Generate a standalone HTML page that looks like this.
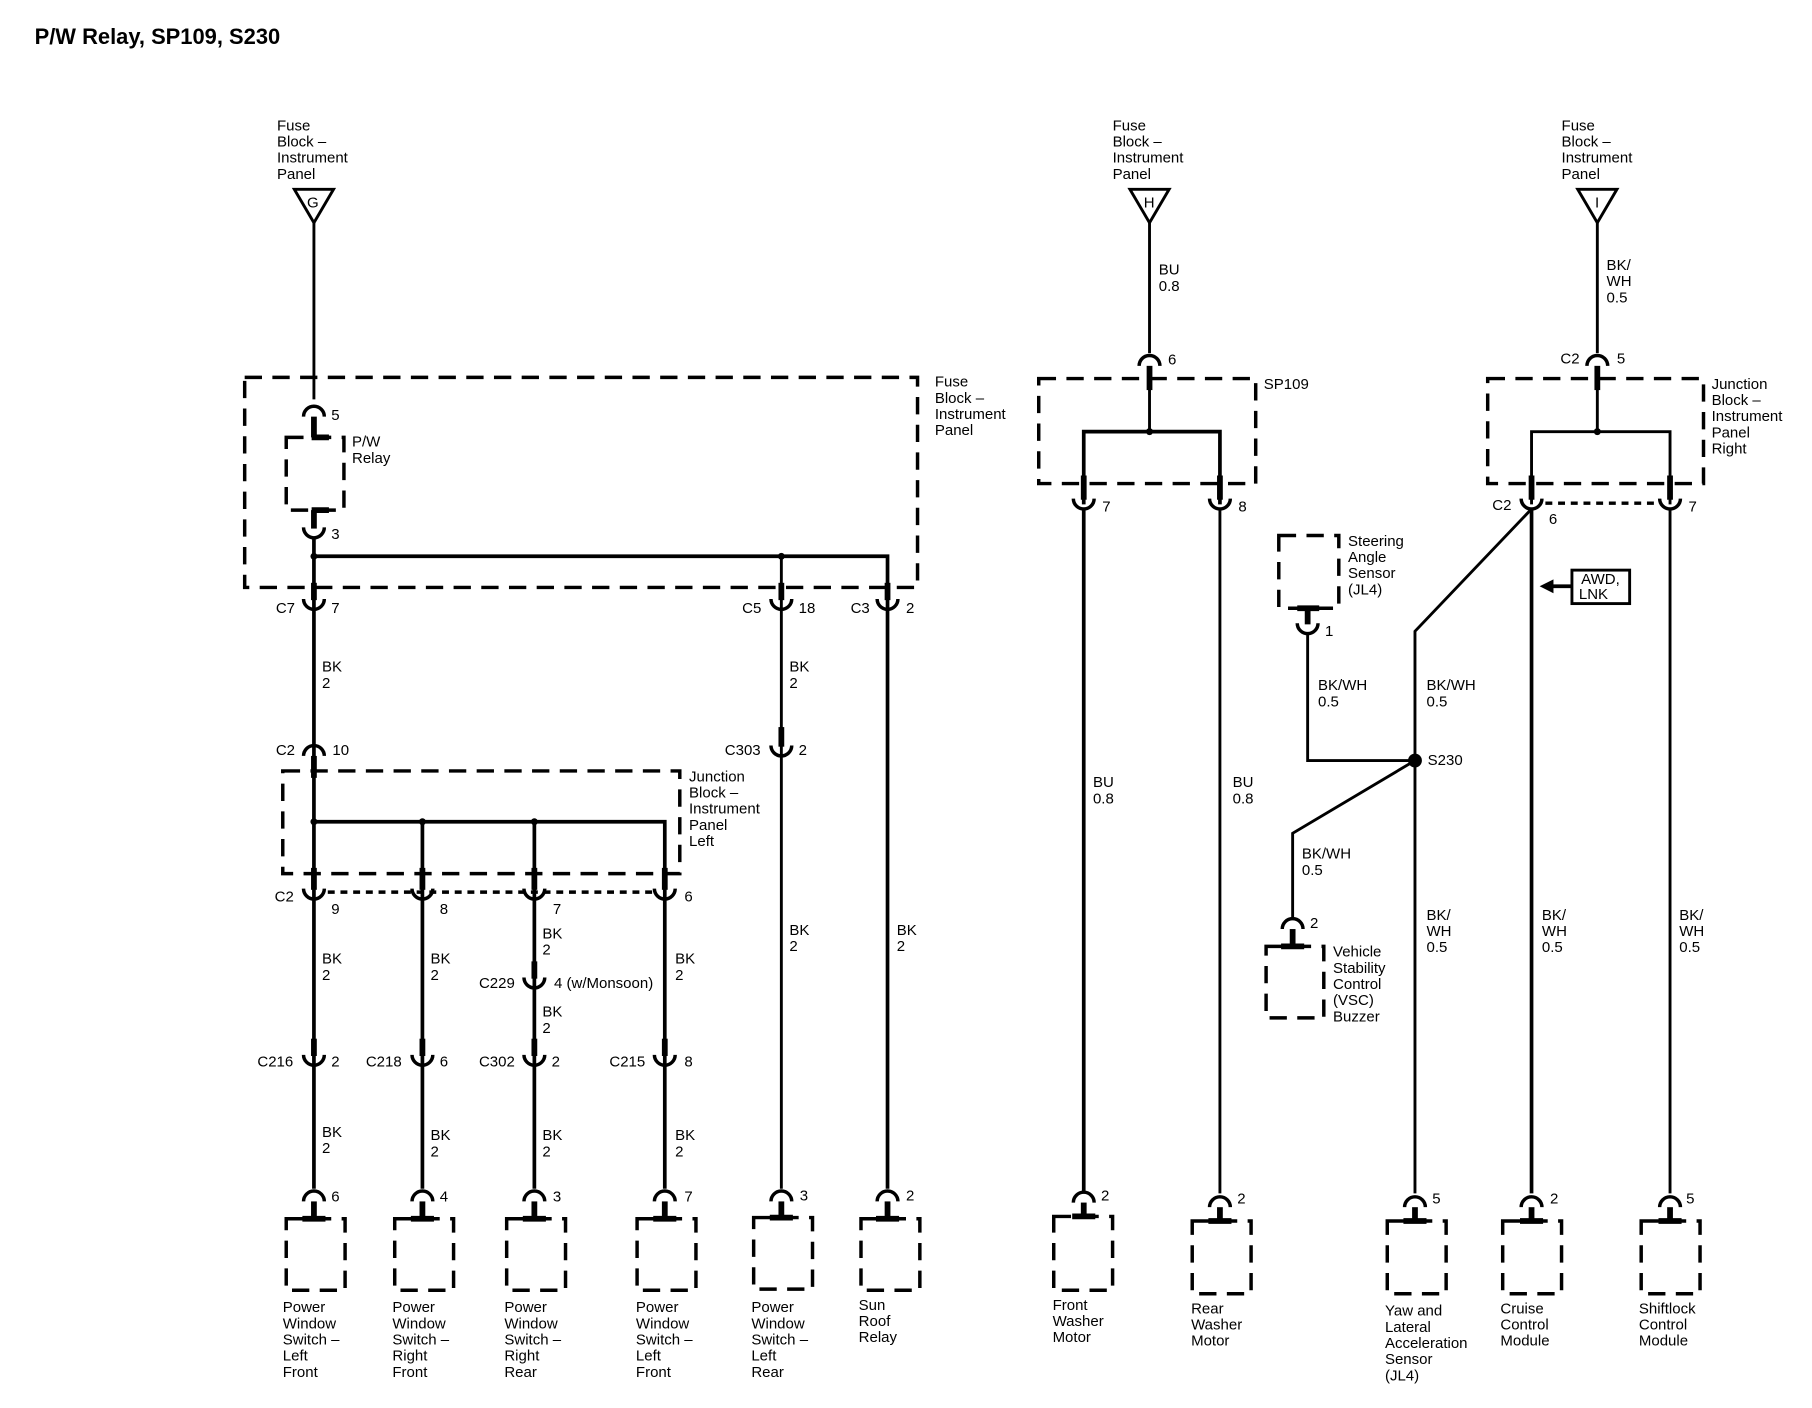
<!DOCTYPE html>
<html><head><meta charset="utf-8"><style>
html,body{margin:0;padding:0;background:#fff;}
svg{display:block;}
text{font-family:"Liberation Sans",Arial,sans-serif;font-size:13px;fill:#000;}
.t{font-size:19px;font-weight:bold;}
.w{stroke:#000;stroke-width:2.5;fill:none;}
.wt{stroke:#000;stroke-width:3.2;fill:none;}
.s{stroke:#000;stroke-width:5;fill:none;}
.d{stroke:#000;stroke-width:3;fill:none;stroke-dasharray:15 9;}
.dd{stroke:#000;stroke-width:3;fill:none;stroke-dasharray:6 5;}
.c{stroke:#000;stroke-width:3;fill:none;}
</style></head><body>
<svg width="1812" height="1408" viewBox="0 0 1570 1220" preserveAspectRatio="none" xmlns="http://www.w3.org/2000/svg">
<defs>
<path id="cup" class="c" d="M-9,-5 A9,9 0 0 0 9,-5"/>
<path id="cap" class="c" d="M-9,5 A9,9 0 0 1 9,5"/>
</defs>
<text x="30" y="38" class="t">P/W Relay, SP109, S230</text>

<!-- LEFT SECTION -->
<text x="240" y="113">Fuse</text><text x="240" y="127">Block –</text><text x="240" y="141">Instrument</text><text x="240" y="155">Panel</text>
<path d="M255,164 L289,164 L272,193 Z" class="w" stroke-width="2"/>
<text x="266" y="180" font-size="12">G</text>
<line x1="272" y1="193" x2="272" y2="346" class="w"/>
<rect x="212" y="327" width="583" height="182" class="d"/>
<text x="810" y="335">Fuse</text><text x="810" y="349">Block –</text><text x="810" y="363">Instrument</text><text x="810" y="377">Panel</text>
<use href="#cap" x="272" y="356"/><text x="287" y="364">5</text>
<line x1="272" y1="361" x2="272" y2="379" class="s"/>
<line x1="270" y1="379" x2="285" y2="379" class="s"/>
<rect x="248" y="379" width="50" height="63" class="d"/>
<text x="305" y="387">P/W</text><text x="305" y="401">Relay</text>
<line x1="270" y1="442" x2="285" y2="442" class="s"/>
<line x1="272" y1="442" x2="272" y2="458" class="s"/>
<use href="#cup" x="272" y="462"/><text x="287" y="467">3</text>
<line x1="272" y1="466" x2="272" y2="1030" class="wt"/>
<polyline points="272,482 769,482 769,1030" class="wt"/>
<line x1="677" y1="482" x2="677" y2="1030" class="w"/>
<circle cx="272" cy="482" r="3"/><circle cx="677" cy="482" r="3"/>
<line x1="272" y1="505" x2="272" y2="520" class="s"/><use href="#cup" x="272" y="524"/>
<text x="239" y="531">C7</text><text x="287" y="531">7</text>
<line x1="677" y1="505" x2="677" y2="520" class="s"/><use href="#cup" x="677" y="524"/>
<text x="643" y="531">C5</text><text x="692" y="531">18</text>
<line x1="769" y1="505" x2="769" y2="520" class="s"/><use href="#cup" x="769" y="524"/>
<text x="737" y="531">C3</text><text x="785" y="531">2</text>
<text x="279" y="582">BK</text><text x="279" y="596">2</text>
<text x="684" y="582">BK</text><text x="684" y="596">2</text>
<use href="#cap" x="272" y="650"/><line x1="272" y1="655" x2="272" y2="674" class="s"/>
<text x="239" y="654">C2</text><text x="288" y="654">10</text>
<line x1="677" y1="630" x2="677" y2="647" class="s"/><use href="#cup" x="677" y="651"/>
<text x="628" y="654">C303</text><text x="692" y="654">2</text>
<rect x="245" y="668" width="344" height="89" class="d"/>
<text x="597" y="677">Junction</text><text x="597" y="691">Block –</text><text x="597" y="705">Instrument</text><text x="597" y="719">Panel</text><text x="597" y="733">Left</text>
<polyline points="272,712 576,712 576,1030" class="wt"/>
<line x1="366" y1="712" x2="366" y2="1030" class="wt"/>
<line x1="463" y1="712" x2="463" y2="1030" class="wt"/>
<circle cx="272" cy="712" r="3"/><circle cx="366" cy="712" r="3"/><circle cx="463" cy="712" r="3"/>
<line x1="284" y1="773" x2="566" y2="773" class="dd"/>
<g>
<line x1="272" y1="752" x2="272" y2="771" class="s"/><use href="#cup" x="272" y="775"/>
<line x1="366" y1="752" x2="366" y2="771" class="s"/><use href="#cup" x="366" y="775"/>
<line x1="463" y1="752" x2="463" y2="771" class="s"/><use href="#cup" x="463" y="775"/>
<line x1="576" y1="752" x2="576" y2="771" class="s"/><use href="#cup" x="576" y="775"/>
</g>
<text x="238" y="781">C2</text><text x="287" y="792">9</text><text x="381" y="792">8</text><text x="479" y="792">7</text><text x="593" y="781">6</text>
<text x="279" y="835">BK</text><text x="279" y="849">2</text>
<text x="373" y="835">BK</text><text x="373" y="849">2</text>
<text x="470" y="813">BK</text><text x="470" y="827">2</text>
<text x="585" y="835">BK</text><text x="585" y="849">2</text>
<line x1="463" y1="833" x2="463" y2="848" class="s"/><use href="#cup" x="463" y="852"/>
<text x="415" y="856">C229</text><text x="480" y="856">4 (w/Monsoon)</text>
<text x="470" y="881">BK</text><text x="470" y="895">2</text>
<g>
<line x1="272" y1="900" x2="272" y2="915" class="s"/><use href="#cup" x="272" y="919"/>
<line x1="366" y1="900" x2="366" y2="915" class="s"/><use href="#cup" x="366" y="919"/>
<line x1="463" y1="900" x2="463" y2="915" class="s"/><use href="#cup" x="463" y="919"/>
<line x1="576" y1="900" x2="576" y2="915" class="s"/><use href="#cup" x="576" y="919"/>
</g>
<text x="223" y="924">C216</text><text x="287" y="924">2</text>
<text x="317" y="924">C218</text><text x="381" y="924">6</text>
<text x="415" y="924">C302</text><text x="478" y="924">2</text>
<text x="528" y="924">C215</text><text x="593" y="924">8</text>
<text x="279" y="985">BK</text><text x="279" y="999">2</text>
<text x="373" y="988">BK</text><text x="373" y="1002">2</text>
<text x="470" y="988">BK</text><text x="470" y="1002">2</text>
<text x="585" y="988">BK</text><text x="585" y="1002">2</text>
<text x="684" y="810">BK</text><text x="684" y="824">2</text>
<text x="777" y="810">BK</text><text x="777" y="824">2</text>
<g>
<use href="#cap" x="272" y="1036"/><line x1="272" y1="1041" x2="272" y2="1056" class="s"/><line x1="262" y1="1056" x2="282" y2="1056" class="s"/><rect x="248" y="1056" width="51" height="62" class="d"/><text x="287" y="1041">6</text>
<use href="#cap" x="366" y="1036"/><line x1="366" y1="1041" x2="366" y2="1056" class="s"/><line x1="356" y1="1056" x2="376" y2="1056" class="s"/><rect x="342" y="1056" width="51" height="62" class="d"/><text x="381" y="1041">4</text>
<use href="#cap" x="463" y="1036"/><line x1="463" y1="1041" x2="463" y2="1056" class="s"/><line x1="453" y1="1056" x2="473" y2="1056" class="s"/><rect x="439" y="1056" width="51" height="62" class="d"/><text x="479" y="1041">3</text>
<use href="#cap" x="576" y="1036"/><line x1="576" y1="1041" x2="576" y2="1056" class="s"/><line x1="566" y1="1056" x2="586" y2="1056" class="s"/><rect x="552" y="1056" width="51" height="62" class="d"/><text x="593" y="1041">7</text>
<use href="#cap" x="677" y="1036"/><line x1="677" y1="1041" x2="677" y2="1055" class="s"/><line x1="667" y1="1055" x2="687" y2="1055" class="s"/><rect x="653" y="1055" width="51" height="62" class="d"/><text x="693" y="1040">3</text>
<use href="#cap" x="769" y="1036"/><line x1="769" y1="1041" x2="769" y2="1056" class="s"/><line x1="759" y1="1056" x2="779" y2="1056" class="s"/><rect x="746" y="1056" width="51" height="62" class="d"/><text x="785" y="1040">2</text>
</g>
<text x="245" y="1137">Power</text><text x="245" y="1151">Window</text><text x="245" y="1165">Switch –</text><text x="245" y="1179">Left</text><text x="245" y="1193">Front</text>
<text x="340" y="1137">Power</text><text x="340" y="1151">Window</text><text x="340" y="1165">Switch –</text><text x="340" y="1179">Right</text><text x="340" y="1193">Front</text>
<text x="437" y="1137">Power</text><text x="437" y="1151">Window</text><text x="437" y="1165">Switch –</text><text x="437" y="1179">Right</text><text x="437" y="1193">Rear</text>
<text x="551" y="1137">Power</text><text x="551" y="1151">Window</text><text x="551" y="1165">Switch –</text><text x="551" y="1179">Left</text><text x="551" y="1193">Front</text>
<text x="651" y="1137">Power</text><text x="651" y="1151">Window</text><text x="651" y="1165">Switch –</text><text x="651" y="1179">Left</text><text x="651" y="1193">Rear</text>
<text x="744" y="1135">Sun</text><text x="744" y="1149">Roof</text><text x="744" y="1163">Relay</text>

<!-- MIDDLE SECTION -->
<text x="964" y="113">Fuse</text><text x="964" y="127">Block –</text><text x="964" y="141">Instrument</text><text x="964" y="155">Panel</text>
<path d="M979,164 L1013,164 L996,193 Z" class="w" stroke-width="2"/>
<text x="991" y="180" font-size="12">H</text>
<line x1="996" y1="193" x2="996" y2="306" class="w"/>
<text x="1004" y="238">BU</text><text x="1004" y="252">0.8</text>
<use href="#cap" x="996" y="312"/><text x="1012" y="316">6</text>
<line x1="996" y1="317" x2="996" y2="338" class="s"/>
<line x1="996" y1="336" x2="996" y2="374" class="w"/>
<rect x="900" y="328" width="188" height="91" class="d"/>
<text x="1095" y="337">SP109</text>
<polyline points="939,437 939,374 1057,374 1057,437" class="wt"/>
<circle cx="996" cy="374" r="3"/>
<line x1="939" y1="412" x2="939" y2="433" class="s"/><use href="#cup" x="939" y="437"/><text x="955" y="443">7</text>
<line x1="1057" y1="412" x2="1057" y2="433" class="s"/><use href="#cup" x="1057" y="437"/><text x="1073" y="443">8</text>
<line x1="939" y1="441" x2="939" y2="1032" class="wt"/>
<line x1="1057" y1="441" x2="1057" y2="1034" class="w"/>
<text x="947" y="682">BU</text><text x="947" y="696">0.8</text>
<text x="1068" y="682">BU</text><text x="1068" y="696">0.8</text>
<use href="#cap" x="939" y="1037"/><line x1="939" y1="1042" x2="939" y2="1054" class="s"/><line x1="929" y1="1054" x2="949" y2="1054" class="s"/><rect x="913" y="1054" width="51" height="64" class="d"/><text x="954" y="1040">2</text>
<use href="#cap" x="1057" y="1041"/><line x1="1057" y1="1046" x2="1057" y2="1058" class="s"/><line x1="1047" y1="1058" x2="1067" y2="1058" class="s"/><rect x="1033" y="1058" width="51" height="63" class="d"/><text x="1072" y="1043">2</text>
<text x="912" y="1135">Front</text><text x="912" y="1149">Washer</text><text x="912" y="1163">Motor</text>
<text x="1032" y="1138">Rear</text><text x="1032" y="1152">Washer</text><text x="1032" y="1166">Motor</text>

<!-- RIGHT SECTION -->
<text x="1353" y="113">Fuse</text><text x="1353" y="127">Block –</text><text x="1353" y="141">Instrument</text><text x="1353" y="155">Panel</text>
<path d="M1367,164 L1401,164 L1384,193 Z" class="w" stroke-width="2"/>
<text x="1382" y="180" font-size="12">I</text>
<line x1="1384" y1="193" x2="1384" y2="306" class="w"/>
<text x="1392" y="234">BK/</text><text x="1392" y="248">WH</text><text x="1392" y="262">0.5</text>
<use href="#cap" x="1384" y="312"/><text x="1352" y="315">C2</text><text x="1401" y="315">5</text>
<line x1="1384" y1="317" x2="1384" y2="338" class="s"/>
<line x1="1384" y1="336" x2="1384" y2="374" class="w"/>
<rect x="1289" y="328" width="187" height="91" class="d"/>
<text x="1483" y="337">Junction</text><text x="1483" y="351">Block –</text><text x="1483" y="365">Instrument</text><text x="1483" y="379">Panel</text><text x="1483" y="393">Right</text>
<polyline points="1327,437 1327,374 1447,374 1447,437" class="w"/>
<circle cx="1384" cy="374" r="3"/>
<line x1="1327" y1="412" x2="1327" y2="433" class="s"/><use href="#cup" x="1327" y="437"/>
<line x1="1447" y1="412" x2="1447" y2="433" class="s"/><use href="#cup" x="1447" y="437"/>
<line x1="1339" y1="436" x2="1437" y2="436" class="dd" stroke-width="2.2"/>
<text x="1293" y="442">C2</text><text x="1342" y="454">6</text><text x="1463" y="443">7</text>
<polyline points="1327,441 1226,547 1226,1034" class="w"/>
<line x1="1327" y1="441" x2="1327" y2="1034" class="wt"/>
<line x1="1447" y1="441" x2="1447" y2="1034" class="w"/>
<rect x="1362" y="494" width="50" height="29" fill="none" stroke="#000" stroke-width="2.5"/>
<text x="1370" y="506">AWD,</text><text x="1368" y="519">LNK</text>
<line x1="1344" y1="508" x2="1362" y2="508" class="wt"/>
<path d="M1334,508 L1346,502 L1346,514 Z"/>
<rect x="1108" y="464" width="52" height="63" class="d"/>
<text x="1168" y="473">Steering</text><text x="1168" y="487">Angle</text><text x="1168" y="501">Sensor</text><text x="1168" y="515">(JL4)</text>
<line x1="1124" y1="527" x2="1143" y2="527" class="s"/>
<line x1="1133" y1="527" x2="1133" y2="541" class="s"/><use href="#cup" x="1133" y="545"/><text x="1148" y="551">1</text>
<polyline points="1133,549 1133,659 1226,659" class="w"/>
<circle cx="1226" cy="659" r="6"/>
<text x="1237" y="663">S230</text>
<text x="1142" y="598">BK/WH</text><text x="1142" y="612">0.5</text>
<text x="1236" y="598">BK/WH</text><text x="1236" y="612">0.5</text>
<polyline points="1226,659 1120,722 1120,795" class="w"/>
<text x="1128" y="744">BK/WH</text><text x="1128" y="758">0.5</text>
<use href="#cap" x="1120" y="800"/><text x="1135" y="804">2</text>
<line x1="1120" y1="805" x2="1120" y2="820" class="s"/><line x1="1110" y1="820" x2="1130" y2="820" class="s"/>
<rect x="1097" y="820" width="50" height="62" class="d"/>
<text x="1155" y="829">Vehicle</text><text x="1155" y="843">Stability</text><text x="1155" y="857">Control</text><text x="1155" y="871">(VSC)</text><text x="1155" y="885">Buzzer</text>
<text x="1236" y="797">BK/</text><text x="1236" y="811">WH</text><text x="1236" y="825">0.5</text>
<text x="1336" y="797">BK/</text><text x="1336" y="811">WH</text><text x="1336" y="825">0.5</text>
<text x="1455" y="797">BK/</text><text x="1455" y="811">WH</text><text x="1455" y="825">0.5</text>
<use href="#cap" x="1226" y="1041"/><line x1="1226" y1="1046" x2="1226" y2="1058" class="s"/><line x1="1216" y1="1058" x2="1236" y2="1058" class="s"/><rect x="1202" y="1058" width="51" height="63" class="d"/><text x="1241" y="1043">5</text>
<use href="#cap" x="1327" y="1041"/><line x1="1327" y1="1046" x2="1327" y2="1058" class="s"/><line x1="1317" y1="1058" x2="1337" y2="1058" class="s"/><rect x="1302" y="1058" width="51" height="63" class="d"/><text x="1343" y="1043">2</text>
<use href="#cap" x="1447" y="1041"/><line x1="1447" y1="1046" x2="1447" y2="1058" class="s"/><line x1="1437" y1="1058" x2="1457" y2="1058" class="s"/><rect x="1422" y="1058" width="51" height="63" class="d"/><text x="1461" y="1043">5</text>
<text x="1200" y="1140">Yaw and</text><text x="1200" y="1154">Lateral</text><text x="1200" y="1168">Acceleration</text><text x="1200" y="1182">Sensor</text><text x="1200" y="1196">(JL4)</text>
<text x="1300" y="1138">Cruise</text><text x="1300" y="1152">Control</text><text x="1300" y="1166">Module</text>
<text x="1420" y="1138">Shiftlock</text><text x="1420" y="1152">Control</text><text x="1420" y="1166">Module</text>
</svg>
</body></html>
